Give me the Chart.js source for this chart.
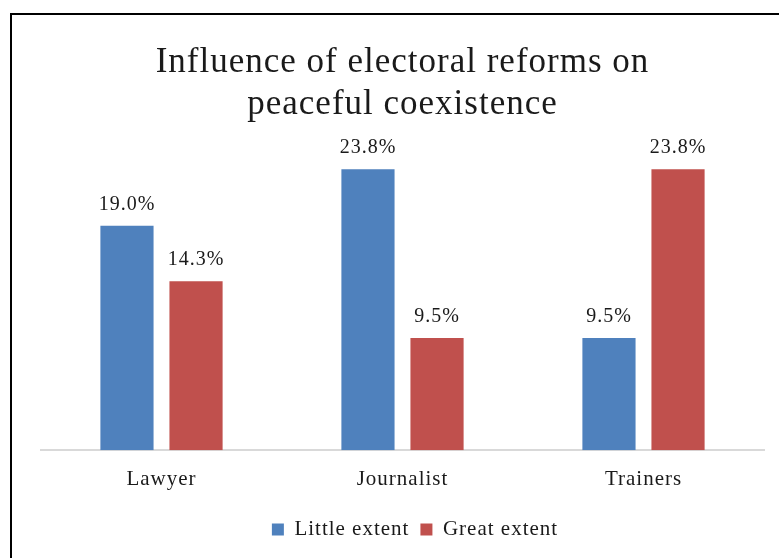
<!DOCTYPE html>
<html>
<head>
<meta charset="utf-8">
<script src="https://cdn.jsdelivr.net/npm/chart.js@4/dist/chart.umd.min.js"></script>
<style>
  html, body { margin: 0; padding: 0; background: #fff; overflow: hidden; }
  #wrap { position: relative; width: 779px; height: 558px; }
  #frame {
    position: absolute; left: 10px; top: 13px; width: 800px; height: 600px;
    border: 2px solid #000; pointer-events: none;
  }
</style>
</head>
<body>
<div id="wrap">
  <canvas id="chart" width="779" height="558"></canvas>
  <div id="frame"></div>
</div>
<script>
const categories = ["Lawyer", "Journalist", "Trainers"];
const littleExtent = [19.0, 23.8, 9.5];
const greatExtent = [14.3, 9.5, 23.8];
const seriesNames = ["Little extent", "Great extent"];

const serif = "'Liberation Serif', 'Times New Roman', serif";

// slightly loose letter spacing for all chart text
const spacing = {
    id: "spacing",
    beforeDraw(chart) {
        chart.ctx.letterSpacing = "1px";
    }
};

// percentage labels over each bar
const barLabels = {
    id: "barLabels",
    afterDatasetsDraw(chart) {
        const ctx = chart.ctx;
        ctx.save();
        ctx.letterSpacing = "1px";
        ctx.font = "20px " + serif;
        ctx.fillStyle = "#1a1a1a";
        ctx.textAlign = "center";
        ctx.textBaseline = "alphabetic";
        chart.data.datasets.forEach((ds, i) => {
            chart.getDatasetMeta(i).data.forEach((bar, j) => {
                ctx.fillText(ds.data[j].toFixed(1) + "%", bar.x, bar.y - 16);
            });
        });
        ctx.restore();
    }
};

new Chart(document.getElementById("chart"), {
    type: "bar",
    data: {
        labels: categories,
        datasets: [
            { label: seriesNames[0], data: littleExtent, backgroundColor: "#4F81BD" },
            { label: seriesNames[1], data: greatExtent, backgroundColor: "#C0504D" }
        ]
    },
    options: {
        responsive: false,
        animation: false,
        categoryPercentage: 0.573,
        barPercentage: 0.77,
        layout: { padding: { left: 41, right: 15, top: 0, bottom: 8 } },
        scales: {
            x: {
                grid: { display: false, drawTicks: false },
                border: { display: true, color: "#d9d9d9", width: 2 },
                ticks: { color: "#1a1a1a", font: { family: serif, size: 21, lineHeight: 0.66 }, padding: 22 }
            },
            y: {
                display: false,
                min: 0,
                max: 25
            }
        },
        plugins: {
            title: {
                display: true,
                text: ["Influence of electoral reforms on", "peaceful coexistence"],
                color: "#1a1a1a",
                font: { family: serif, size: 35, weight: "normal", lineHeight: 1.2 },
                padding: { top: 42, bottom: 29 }
            },
            legend: {
                position: "bottom",
                labels: {
                    color: "#1a1a1a",
                    font: { family: serif, size: 21 },
                    boxWidth: 12,
                    boxHeight: 12,
                    padding: 11
                }
            },
            tooltip: { enabled: false }
        }
    },
    plugins: [spacing, barLabels]
});
</script>
</body>
</html>
